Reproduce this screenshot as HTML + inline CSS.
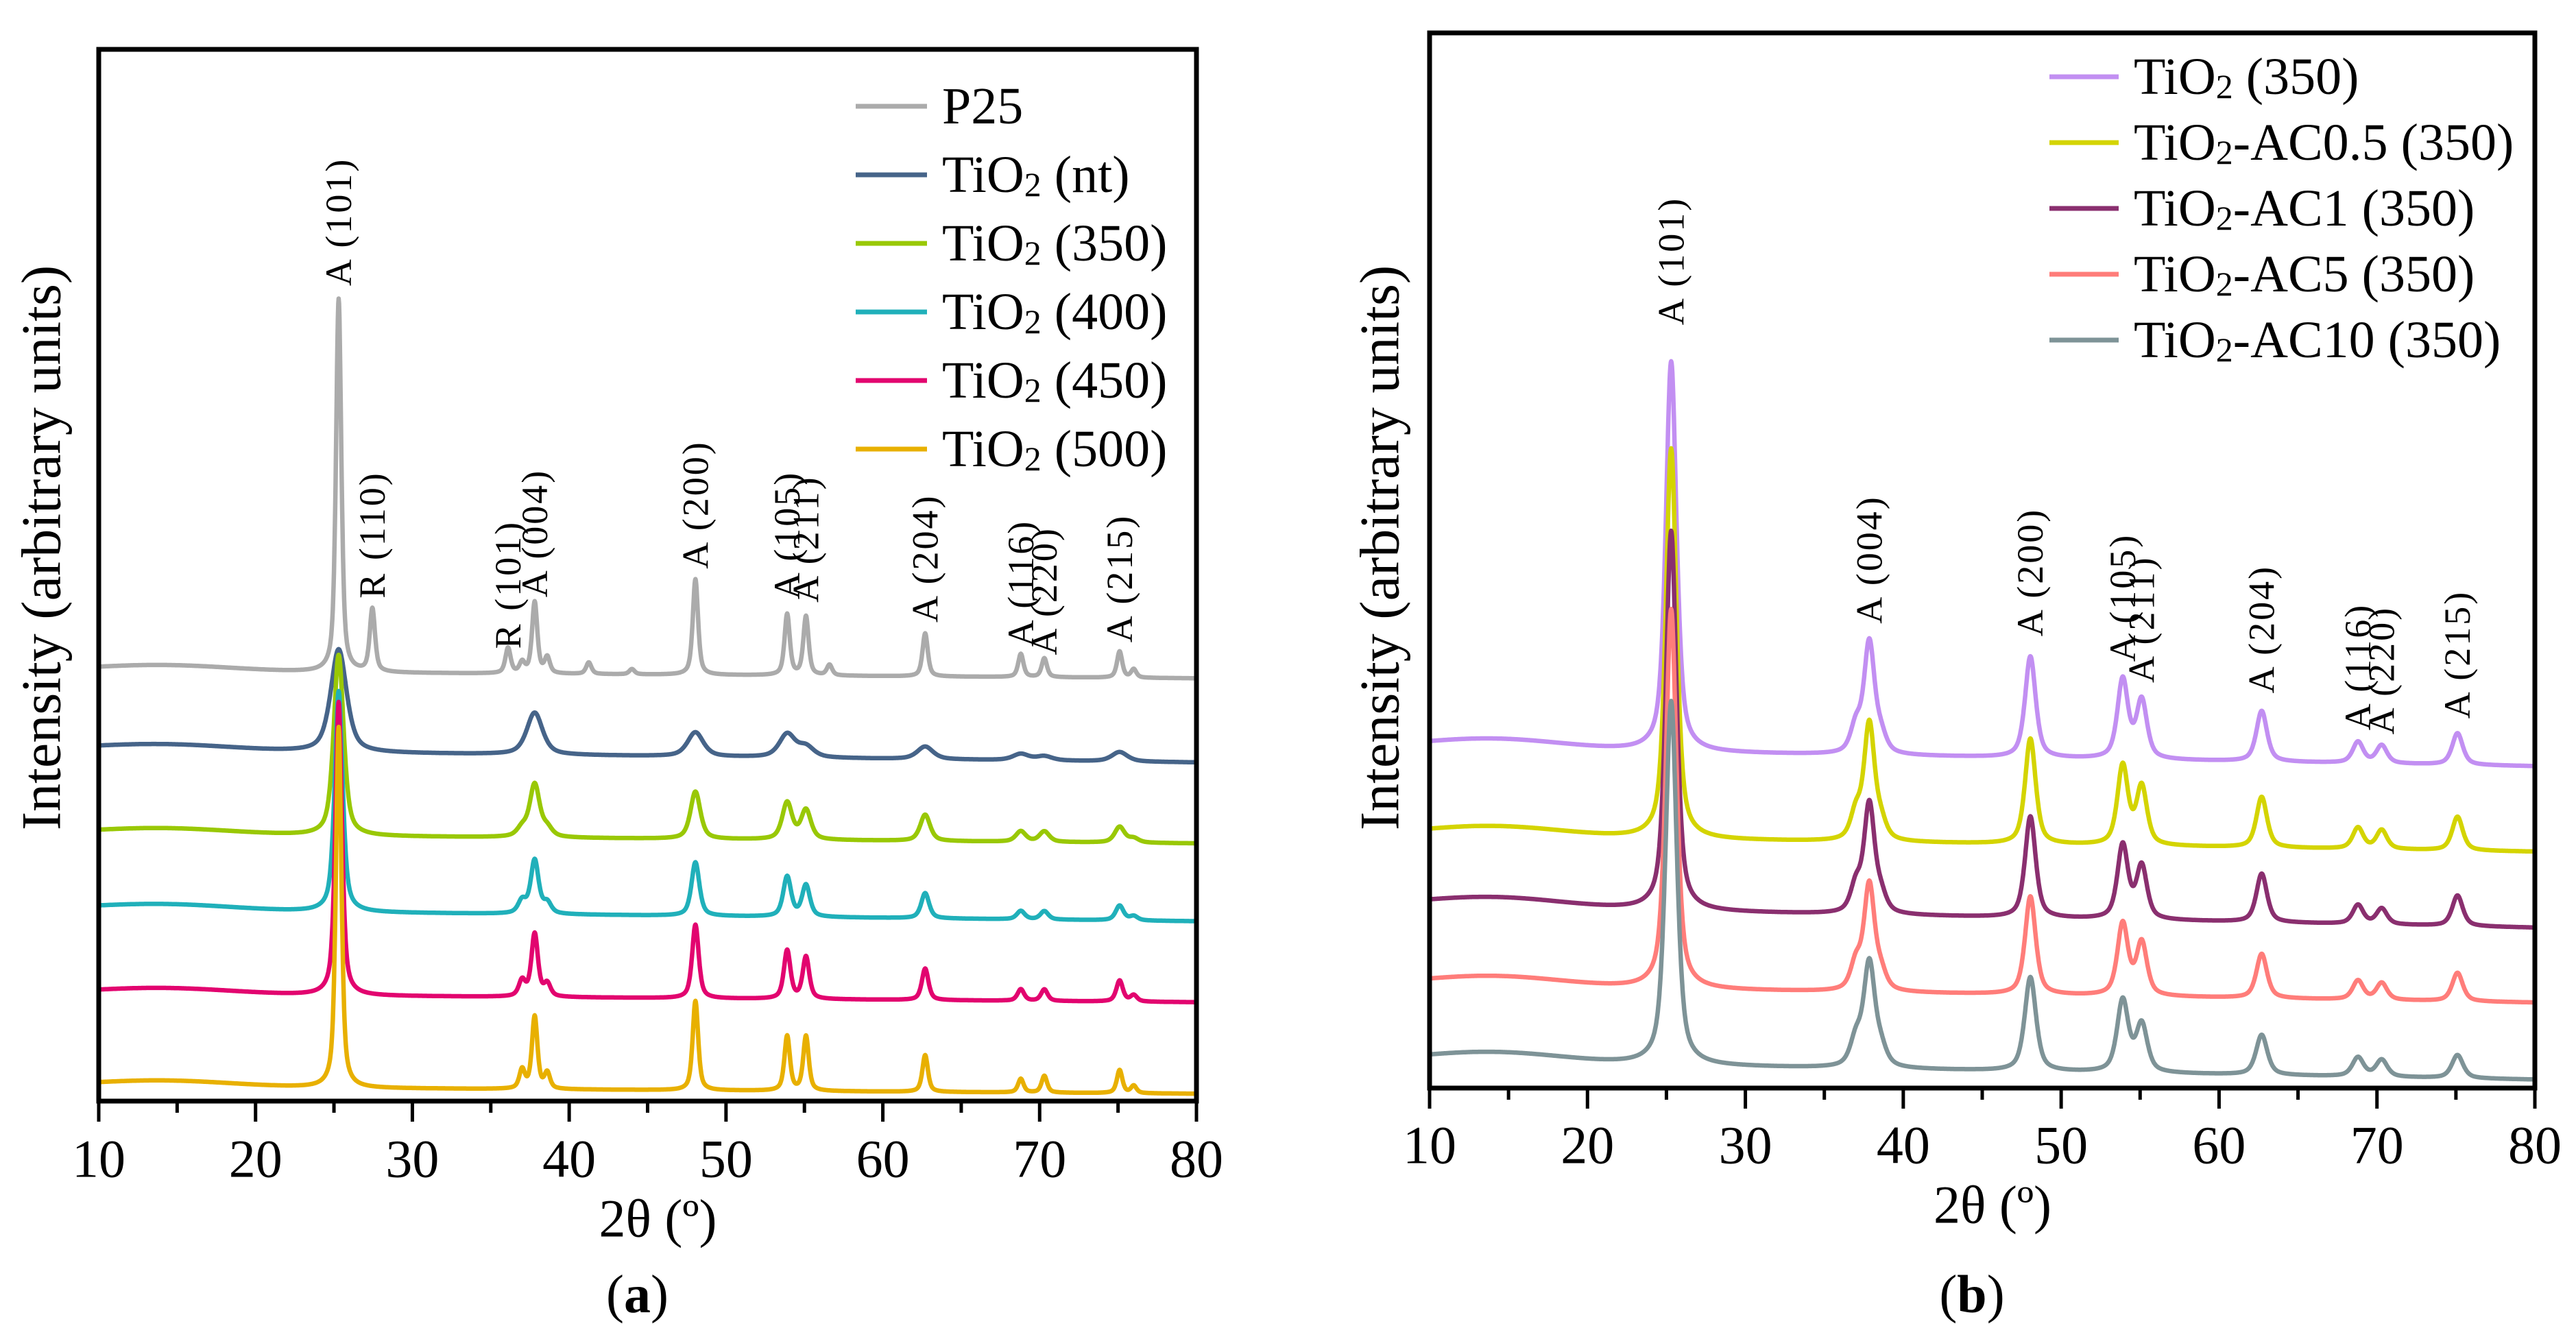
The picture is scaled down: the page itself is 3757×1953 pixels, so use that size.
<!DOCTYPE html>
<html><head><meta charset="utf-8"><style>
html,body{margin:0;padding:0;background:#fff;}
svg{display:block;}
svg text{font-family:"Liberation Serif","Times New Roman",serif;}
</style></head><body>
<svg id="fig" width="3757" height="1953" viewBox="0 0 3757 1953" xmlns="http://www.w3.org/2000/svg" font-family="Liberation Serif, serif">
<g id="panelA"></g>
<g id="panelB"></g>
</svg>
<script>
// ---------- Panel (a) data ----------
const peakPosA = [25.3, 27.45, 36.1, 37.0, 37.8, 38.6, 41.25, 44.0, 48.05, 53.9, 55.1, 56.6, 62.7, 68.8, 70.3, 75.1, 76.0];
const namesA = ["P25", "TiO2 (nt)", "TiO2 (350)", "TiO2 (400)", "TiO2 (450)", "TiO2 (500)"];
const heightsP25 = [35.5, 6.0, 2.4, 1.0, 6.8, 1.5, 1.1, 0.5, 9.1, 5.8, 5.6, 1.0, 4.1, 2.2, 1.8, 2.5, 0.8];
const heightsNt  = [9.8, 0, 0, 0, 4.0, 0, 0, 0, 2.3, 2.2, 1.0, 0, 1.2, 0.6, 0.4, 0.9, 0];
const heights350 = [17.2, 0, 0, 0.8, 5.0, 0.8, 0, 0, 4.5, 3.5, 2.8, 0, 2.5, 1.0, 1.0, 1.5, 0.4];
const heights400 = [21.0, 0, 0, 1.2, 5.1, 1.0, 0, 0, 5.1, 3.8, 3.0, 0, 2.4, 0.8, 0.8, 1.4, 0.4];
const heights450 = [27.9, 0, 0, 1.5, 6.0, 1.2, 0, 0, 7.0, 4.6, 4.0, 0, 3.0, 1.1, 1.1, 2.0, 0.6];
const heights500 = [34.3, 0, 0, 1.8, 6.9, 1.5, 0, 0, 8.5, 5.2, 5.2, 0, 3.5, 1.3, 1.6, 2.2, 0.7];
const widthsA = [0.4, 1.2, 0.75, 0.6, 0.5, 0.42];
const baseStartA = [40.9, 33.4, 25.4, 18.2, 10.2, 1.4];
const baseEndA = [40.2, 32.2, 24.5, 17.1, 9.4, 0.7];
const humpA = [0.6, 0.6, 0.6, 0.6, 0.6, 0.6];
const annotA = ["A (101)", "R (110)", "R (101)", "A (004)", "A (200)", "A (105)", "A (211)", "A (204)", "A (116)", "A (220)", "A (215)"];
const annotPosA = [25.3, 27.45, 36.1, 37.8, 48.05, 53.9, 55.1, 62.7, 68.8, 70.3, 75.1];
const annotValA = [77.5, 47.8, 43.0, 47.9, 50.6, 47.7, 47.4, 45.5, 43.2, 42.4, 43.6];

// ---------- Panel (b) data ----------
const peakPosB = [25.3, 37.0, 37.85, 38.6, 48.05, 53.9, 55.1, 62.7, 68.8, 70.3, 75.1];
const namesB = ["TiO2 (350)", "TiO2-AC0.5 (350)", "TiO2-AC1 (350)", "TiO2-AC5 (350)", "TiO2-AC10 (350)"];
const heightsB1 = [37, 2.5, 10.5, 1.5, 9.6, 7.5, 5.5, 4.8, 2.0, 1.7, 3.0];
const heightsB2 = [37, 2.5, 11, 1.5, 10, 7.5, 5.5, 4.8, 2.0, 1.8, 3.2];
const heightsB3 = [36, 2.5, 10.3, 1.5, 9.6, 7, 5, 4.6, 1.8, 1.5, 2.9];
const heightsB4 = [36, 2.5, 10, 1.5, 9.3, 6.8, 5, 4.2, 1.8, 1.6, 2.7];
const heightsB5 = [34.5, 2.5, 9.8, 1.5, 8.9, 6.8, 4.5, 3.8, 1.8, 1.6, 2.2];
const widthsB = [0.8, 0.8, 0.8, 0.8, 0.85];
const baseStartB = [32.2, 23.9, 17.2, 9.7, 2.5];
const baseEndB = [30.5, 22.4, 15.2, 8.1, 0.8];
const humpB = [1.0, 1.0, 1.0, 1.0, 1.0];
const annotB = ["A (101)", "A (004)", "A (200)", "A (105)", "A (211)", "A (204)", "A (116)", "A (220)", "A (215)"];
const annotPosB = [25.3, 37.85, 48.05, 53.9, 55.1, 62.7, 68.8, 70.3, 75.1];
const annotValB = [72.3, 44.0, 42.8, 40.4, 38.4, 37.4, 33.9, 33.5, 35.0];

const xTicks = [10, 20, 30, 40, 50, 60, 70, 80];

const NS = "http://www.w3.org/2000/svg";
const FONT = "Liberation Serif, Times New Roman, serif";
function mk(tag, attrs, parent) {
  const e = document.createElementNS(NS, tag);
  for (const k in attrs) e.setAttribute(k, attrs[k]);
  if (tag === "text") e.setAttribute("font-family", FONT);
  parent.appendChild(e);
  return e;
}

function drawPanel(g, cfg) {
  const xs = v => cfg.x0 + (v - 10) / 70 * (cfg.x1 - cfg.x0);
  const ys = v => cfg.y1 - v / 100 * (cfg.y1 - cfg.y0);
  cfg.series.forEach((s, i) => {
    let d = "";
    for (let x = 10; x <= 80.0001; x += 0.025) {
      let y = cfg.bs[i] + (cfg.be[i] - cfg.bs[i]) * (x - 10) / 70;
      y += cfg.hump[i] * Math.exp(-Math.pow((x - 14) / 4.5, 2) / 2);
      const hw = cfg.w[i] / 2;
      cfg.pos.forEach((p, k) => {
        const t = (x - p) / hw;
        y += s[k] * (0.6 / (1 + t * t) + 0.4 * Math.exp(-0.693 * t * t));
      });
      d += (d ? "L" : "M") + xs(x).toFixed(1) + "," + ys(y).toFixed(1);
    }
    const path = mk("path", {d: d, fill: "none", stroke: cfg.colors[i], "stroke-width": 6.5, "stroke-linejoin": "round"}, g);
    
    
  });
  cfg.annot.forEach((t, i) => {
    const tx = xs(cfg.annotPos[i]), ty = ys(cfg.annotVal[i]);
    const el = mk("text", {x: 0, y: 0, transform: `translate(${tx.toFixed(1)},${ty.toFixed(1)}) rotate(-90)`, "font-size": 54, "letter-spacing": 3, "dominant-baseline": "central"}, g);
    el.textContent = t;
    
    
  });
  const fr = mk("rect", {x: cfg.x0, y: cfg.y0, width: cfg.x1 - cfg.x0, height: cfg.y1 - cfg.y0, fill: "none", stroke: "#000", "stroke-width": 7}, g);
  
  
  for (let v = 10; v <= 80; v += 5) {
    const major = v % 10 === 0;
    const tk = mk("line", {x1: xs(v), x2: xs(v), y1: cfg.y1, y2: cfg.y1 + (major ? 30 : 17), stroke: "#000", "stroke-width": 5}, g);
    
    
  }
  xTicks.forEach(v => {
    const tl = mk("text", {x: xs(v), y: cfg.tickY, "font-size": 78, "text-anchor": "middle", "dominant-baseline": "central"}, g);
    tl.textContent = v;
    
    
  });
  const xl = mk("text", {x: (cfg.x0 + cfg.x1) / 2 + 15, y: cfg.xLabelY, "font-size": 78, "text-anchor": "middle", "dominant-baseline": "central"}, g);
  xl.textContent = "2θ (º)";
  
  
  const yl = mk("text", {x: 0, y: 0, transform: `translate(${cfg.yLabelX},799) rotate(-90)`, "font-size": 82, "text-anchor": "middle", "dominant-baseline": "central"}, g);
  yl.textContent = "Intensity (arbitrary units)";
  
  
  const pl = mk("text", {x: (cfg.x0 + cfg.x1) / 2 - 15, y: 1887, "font-size": 78, "text-anchor": "middle", "dominant-baseline": "central"}, g);
  pl.innerHTML = '(<tspan font-weight="bold">' + cfg.letter + '</tspan>)';
  
  
  const lg = mk("g", {}, g);
  
  
  cfg.names.forEach((n, i) => {
    const yy = cfg.legY0 + i * cfg.legDy;
    const ln = mk("line", {x1: cfg.legX, x2: cfg.legX + cfg.legLen, y1: yy, y2: yy, stroke: cfg.colors[i], "stroke-width": 7}, lg);
    
    
    const tx = mk("text", {x: cfg.legX + cfg.legLen + 22, y: yy, "font-size": 76, "dominant-baseline": "central"}, lg);
    if (n.startsWith("TiO2")) {
      tx.innerHTML = 'TiO<tspan font-size="50" dy="14">2</tspan><tspan dy="-14">' + n.slice(4) + '</tspan>';
    } else tx.textContent = n;
    
    
  });
}

drawPanel(document.getElementById("panelA"), {
  x0: 144, x1: 1745, y0: 72, y1: 1606, tickY: 1690, xLabelY: 1777, yLabelX: 60, letter: "a",
  series: [heightsP25, heightsNt, heights350, heights400, heights450, heights500],
  names: namesA, pos: peakPosA, w: widthsA, bs: baseStartA, be: baseEndA, hump: humpA,
  colors: ["#ababab", "#466489", "#99c805", "#20b0ba", "#e2046f", "#e8b000"],
  annot: annotA, annotPos: annotPosA, annotVal: annotValA,
  legX: 1248, legLen: 104, legY0: 155, legDy: 100
});
drawPanel(document.getElementById("panelB"), {
  x0: 2085, x1: 3697, y0: 48, y1: 1587, tickY: 1670, xLabelY: 1757, yLabelX: 2012, letter: "b",
  series: [heightsB1, heightsB2, heightsB3, heightsB4, heightsB5],
  names: namesB, pos: peakPosB, w: widthsB, bs: baseStartB, be: baseEndB, hump: humpB,
  colors: ["#c28ff2", "#d4d400", "#8a2f6f", "#ff7d7a", "#7e9397"],
  annot: annotB, annotPos: annotPosB, annotVal: annotValB,
  legX: 2989, legLen: 101, legY0: 112, legDy: 96
});
</script>
</body></html>
